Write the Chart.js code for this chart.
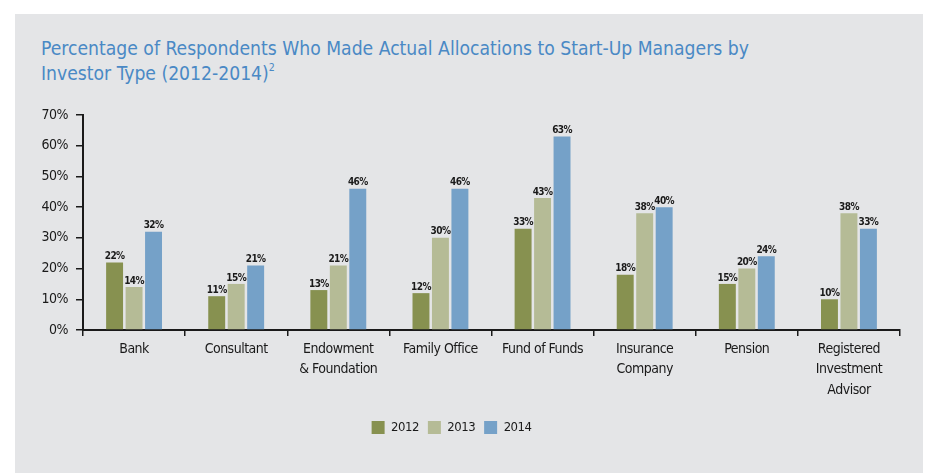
<!DOCTYPE html>
<html>
<head>
<meta charset="utf-8">
<script src="https://cdn.jsdelivr.net/npm/chart.js@4/dist/chart.umd.min.js"></script>
<style>
  body { margin: 0; background: #fff; width: 935px; height: 473px; overflow: hidden; }
  #panel { position: absolute; left: 15px; top: 14px; width: 908px; height: 459px; background: #e4e5e7; }
  #title { position: absolute; left: 26px; top: 22px; margin: 0; font: 20px "DejaVu Sans Condensed", sans-serif;
           color: #4a89c5; line-height: 25px; font-weight: normal; white-space: nowrap;
           transform: scaleX(0.958); transform-origin: 0 0; }
  #title sup { font-size: 11px; vertical-align: 9px; line-height: 0; }
  #wrap { position: absolute; left: 0; top: 81px; width: 908px; height: 378px; }
</style>
</head>
<body>
<div id="panel">
  <h1 id="title">Percentage of Respondents Who Made Actual Allocations to Start-Up Managers by<br>Investor Type (2012-2014)<sup>2</sup></h1>
  <div id="wrap"><canvas id="chart" width="908" height="378"></canvas></div>
</div>
<script>
// categories and series
const investorTypes = [
  "Bank", "Consultant", ["Endowment", "& Foundation"], "Family Office", "Fund of Funds",
  ["Insurance", "Company"], "Pension", ["Registered", "Investment", "Advisor"],
];
const years = ["2012", "2013", "2014"];
const pct2012 = [22, 11, 13, 12, 33, 18, 15, 10];
const pct2013 = [14, 15, 21, 30, 43, 38, 20, 38];
const pct2014 = [32, 21, 46, 46, 63, 40, 24, 33];
const yTicks = [0, 10, 20, 30, 40, 50, 60, 70];

const FONT = '"DejaVu Sans Condensed", sans-serif';
const colors = ["#879150", "#b5bb96", "#75a1c8"];

// the reference type is narrow: tighten letters a bit
const tightText = {
  id: "tightText",
  beforeDraw(chart) { chart.ctx.letterSpacing = "-0.5px"; },
  beforeLayout(chart) { chart.ctx.letterSpacing = "-0.5px"; },
};

// value labels above every bar
const barLabels = {
  id: "barLabels",
  afterDatasetsDraw(chart) {
    const ctx = chart.ctx;
    ctx.save();
    ctx.font = "bold 10px " + FONT;
    ctx.letterSpacing = "-0.6px";
    ctx.fillStyle = "#1a1a1a";
    ctx.textAlign = "center";
    ctx.textBaseline = "bottom";
    chart.data.datasets.forEach((ds, i) => {
      chart.getDatasetMeta(i).data.forEach((bar, j) => {
        ctx.fillText(ds.data[j] + "%", bar.x, bar.y - 1);
      });
    });
    ctx.restore();
  },
};

// nudge the legend a little left, as in the reference
const legendShift = {
  id: "legendShift",
  afterLayout(chart) {
    chart.legend.left -= 6;
    chart.legend.right -= 6;
  },
};

new Chart(document.getElementById("chart"), {
  type: "bar",
  data: {
    labels: investorTypes,
    datasets: [pct2012, pct2013, pct2014].map((d, i) => ({
      label: years[i], data: d, backgroundColor: colors[i],
      categoryPercentage: 0.572, barPercentage: 0.87,
    })),
  },
  options: {
    responsive: false,
    animation: false,
    layout: { padding: { left: 0, right: 23, top: 20, bottom: 29 } },
    plugins: {
      tooltip: { enabled: false },
      legend: {
        position: "bottom",
        labels: { boxWidth: 13, boxHeight: 13, color: "#1a1a1a", font: { family: FONT, size: 13 }, padding: 9 },
      },
    },
    scales: {
      x: {
        grid: { drawOnChartArea: false, tickLength: 6, color: "#1a1a1a", lineWidth: 1.5, offset: true },
        border: { color: "#1a1a1a", width: 2 },
        ticks: { color: "#1a1a1a", font: { family: FONT, size: 14, lineHeight: 1.46 }, padding: 3, maxRotation: 0, autoSkip: false },
        afterFit: (s) => { s.height = 82; },
      },
      y: {
        min: 0, max: 70,
        afterBuildTicks: (s) => { s.ticks = yTicks.map((v) => ({ value: v })); },
        grid: { drawOnChartArea: false, tickLength: 7, color: "#1a1a1a", lineWidth: 1.5 },
        border: { color: "#1a1a1a", width: 2 },
        ticks: { color: "#1a1a1a", font: { family: FONT, size: 14 }, padding: 8, callback: (v) => v + "%" },
        afterFit: (s) => { s.width = 68; },
      },
    },
  },
  plugins: [tightText, barLabels, legendShift],
});
</script>
</body>
</html>
